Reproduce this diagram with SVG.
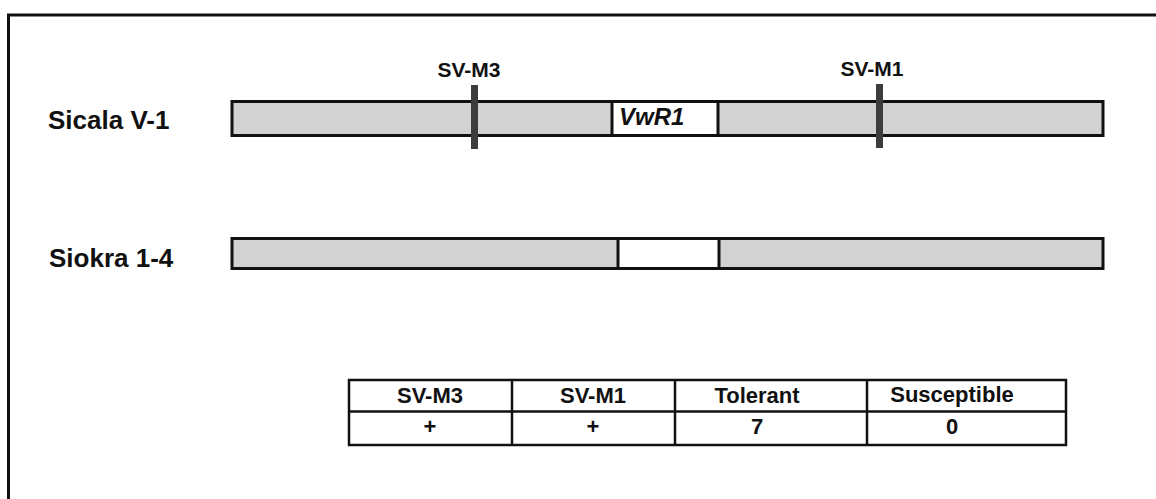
<svg xmlns="http://www.w3.org/2000/svg" width="1156" height="499" viewBox="0 0 1156 499">
<style>
text{font-family:"Liberation Sans",Arial,sans-serif;font-weight:bold;fill:#111}
.lbl{font-size:26px}
.mk{font-size:21px;text-anchor:middle}
.th{font-size:22px;text-anchor:middle}
.bar{fill:#d2d2d2;stroke:#111;stroke-width:3}
.wh{fill:#fff;stroke:#111;stroke-width:3}
.marker{fill:#3c3c3c}
.cell{fill:#fff;stroke:#111;stroke-width:2.5}
</style>
<rect x="0" y="0" width="1156" height="499" fill="#fff"/>
<g id="frame" stroke="#111" stroke-width="3" fill="none">
<line x1="7" y1="15" x2="1156" y2="15"/>
<line x1="8.5" y1="14" x2="8.5" y2="499"/>
</g>
<g id="sicala">
<text class="lbl" x="48" y="129">Sicala V-1</text>
<rect class="bar" x="232" y="101.5" width="871" height="34"/>
<rect class="wh" x="612" y="101.5" width="106" height="34"/>
<text x="619" y="125" font-size="24" font-style="italic">VwR1</text>
</g>
<g id="sv-m3">
<rect class="marker" x="471" y="85" width="7" height="64"/>
<text class="mk" x="469" y="77">SV-M3</text>
</g>
<g id="sv-m1">
<rect class="marker" x="876" y="84" width="7" height="64"/>
<text class="mk" x="872" y="76">SV-M1</text>
</g>
<g id="siokra">
<text class="lbl" x="49" y="267">Siokra 1-4</text>
<rect class="bar" x="232" y="238.5" width="871" height="30"/>
<rect class="wh" x="618" y="238.5" width="101" height="30"/>
</g>
<g id="table">
<rect class="cell" x="349" y="380" width="717" height="65"/>
<line x1="349" y1="411.5" x2="1066" y2="411.5" stroke="#111" stroke-width="2.5"/>
<line x1="512" y1="380" x2="512" y2="445" stroke="#111" stroke-width="2.5"/>
<line x1="675" y1="380" x2="675" y2="445" stroke="#111" stroke-width="2.5"/>
<line x1="867" y1="380" x2="867" y2="445" stroke="#111" stroke-width="2.5"/>
<text class="th" x="430" y="403">SV-M3</text>
<text class="th" x="593" y="403">SV-M1</text>
<text class="th" x="757" y="403">Tolerant</text>
<text class="th" x="952" y="402">Susceptible</text>
<text class="th" x="430" y="434">+</text>
<text class="th" x="593" y="434">+</text>
<text class="th" x="757" y="434">7</text>
<text class="th" x="952" y="434">0</text>
</g>
</svg>
